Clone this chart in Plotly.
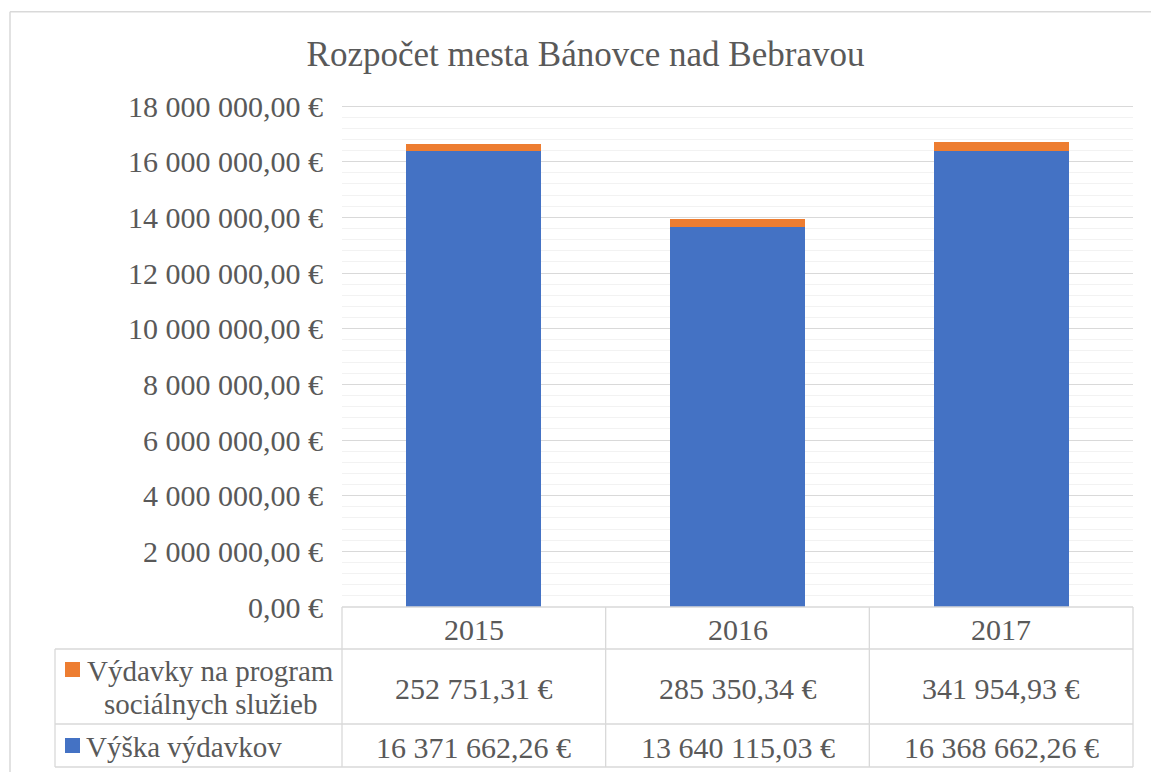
import plotly.graph_objects as go

# ---------------- data ----------------
years = ["2015", "2016", "2017"]
vyska_vydavkov = [16371662.26, 13640115.03, 16368662.26]
socialne_sluzby = [252751.31, 285350.34, 341954.93]
series_names = ["Výdavky na program sociálnych služieb", "Výška výdavkov"]
title_text = "Rozpočet mesta Bánovce nad Bebravou"
y_max = 18000000
y_step = 2000000
y_minor_step = 400000

# ---------------- style / layout ----------------
W, H = 1151, 772
L, R, T, B = 342, 1133, 102, 607
TOP_GRID_PX = 106  # pixel row where the top gridline sits
PW, PH = R - L, B - T
FONT = "Liberation Serif"
GREY = "#595959"
GRID = "#d9d9d9"
MINOR = "#f2f2f2"
BLUE = "#4472c4"
ORANGE = "#ed7d31"


def xp(px):
    return (px - L) / PW


def yp(py):
    return (B - py) / PH


def eur(v):
    s = f"{v:,.2f}".replace(",", " ").replace(".", ",")
    return s + " €"


fig = go.Figure()
fig.add_bar(x=years, y=vyska_vydavkov, name=series_names[1],
            marker=dict(color=BLUE, line=dict(width=0)))
fig.add_bar(x=years, y=socialne_sluzby, name=series_names[0],
            marker=dict(color=ORANGE, line=dict(width=0)))

fig.update_layout(
    barmode="stack",
    bargap=0.488,
    width=W, height=H,
    margin=dict(l=L, r=W - R, t=T, b=H - B, pad=0),
    plot_bgcolor="white", paper_bgcolor="white",
    showlegend=False,
    separators=", ",
    font=dict(family=FONT, color=GREY, size=30),
    title=dict(text=title_text, font=dict(family=FONT, size=35, color=GREY),
               xref="paper", x=xp(585.5), xanchor="center",
               yref="container", y=1 - 54 / H, yanchor="middle"),
)

fig.update_yaxes(
    range=[0, y_max * (B - T) / (B - TOP_GRID_PX)],
    tickmode="linear", tick0=0, dtick=y_step,
    tickformat=",.2f", ticksuffix=" €",
    showgrid=True, gridcolor=GRID, gridwidth=1,
    zeroline=False, showline=False, ticks="", ticklabelstandoff=18,
    tickfont=dict(family=FONT, size=30, color=GREY),
    minor=dict(tickmode="linear", tick0=0, dtick=y_minor_step,
               showgrid=True, gridcolor=MINOR, gridwidth=1, ticks=""),
)
fig.update_xaxes(type="category", categoryorder="array", categoryarray=years,
                 range=[-0.5, len(years) - 0.5], autorange=False,
                 showticklabels=False, showgrid=False,
                 zeroline=False, showline=False, ticks="")

shapes = []
LW = 1.3
# outer chart frame (cropped)
shapes.append(dict(type="line", xref="paper", yref="paper",
                   x0=xp(10), x1=xp(1300), y0=yp(11.7), y1=yp(11.7),
                   line=dict(color=GRID, width=1.5)))
shapes.append(dict(type="line", xref="paper", yref="paper",
                   x0=xp(10), x1=xp(10), y0=yp(11.7), y1=yp(900),
                   line=dict(color=GRID, width=1.5)))
# data table horizontal lines
shapes.append(dict(type="line", xref="paper", yref="paper",
                   x0=0, x1=1, y0=0, y1=0, line=dict(color=GRID, width=LW)))
for row_y in (649, 724, 767):
    shapes.append(dict(type="line", xref="paper", yref="paper",
                       x0=xp(55), x1=1, y0=yp(row_y), y1=yp(row_y),
                       line=dict(color=GRID, width=LW)))
# vertical lines
shapes.append(dict(type="line", xref="paper", yref="paper",
                   x0=xp(55), x1=xp(55), y0=yp(649), y1=yp(767),
                   line=dict(color=GRID, width=LW)))
for xe in (0, 1):
    shapes.append(dict(type="line", xref="paper", yref="paper",
                       x0=xe, x1=xe, y0=0, y1=yp(767),
                       line=dict(color=GRID, width=LW)))
for i in range(len(years) - 1):
    shapes.append(dict(type="line", xref="x", yref="paper",
                       x0=i + 0.5, x1=i + 0.5, y0=0, y1=yp(767),
                       line=dict(color=GRID, width=LW)))
# legend keys
shapes.append(dict(type="rect", xref="paper", yref="paper",
                   x0=xp(65), x1=xp(80), y0=yp(662), y1=yp(677),
                   fillcolor=ORANGE, line=dict(width=0)))
shapes.append(dict(type="rect", xref="paper", yref="paper",
                   x0=xp(65), x1=xp(80), y0=yp(738), y1=yp(753),
                   fillcolor=BLUE, line=dict(width=0)))
fig.update_layout(shapes=shapes)

ann = []
for i, yr in enumerate(years):
    ann.append(dict(text=yr, xref="x", x=i, yref="paper", y=yp(629),
                    yanchor="middle", xanchor="center", showarrow=False))
    ann.append(dict(text=eur(socialne_sluzby[i]), xref="x", x=i, yref="paper",
                    y=yp(688), yanchor="middle", xanchor="center", showarrow=False))
    ann.append(dict(text=eur(vyska_vydavkov[i]), xref="x", x=i, yref="paper",
                    y=yp(747), yanchor="middle", xanchor="center", showarrow=False))
words = series_names[0].split()
LEG_FONT = dict(family=FONT, size=29, color=GREY)
ann.append(dict(text=" ".join(words[:3]), xref="paper", x=xp(210), yref="paper",
                y=yp(671), xanchor="center", yanchor="middle", showarrow=False,
                font=LEG_FONT))
ann.append(dict(text=" ".join(words[3:]), xref="paper", x=xp(210), yref="paper",
                y=yp(704), xanchor="center", yanchor="middle", showarrow=False,
                font=LEG_FONT))
ann.append(dict(text=series_names[1], xref="paper", x=xp(84), yref="paper",
                y=yp(747), xanchor="left", yanchor="middle", showarrow=False,
                font=LEG_FONT))
fig.update_layout(annotations=ann)

fig.write_html("out.html", config={"displayModeBar": False},
               post_script="document.body.style.margin='0';")
